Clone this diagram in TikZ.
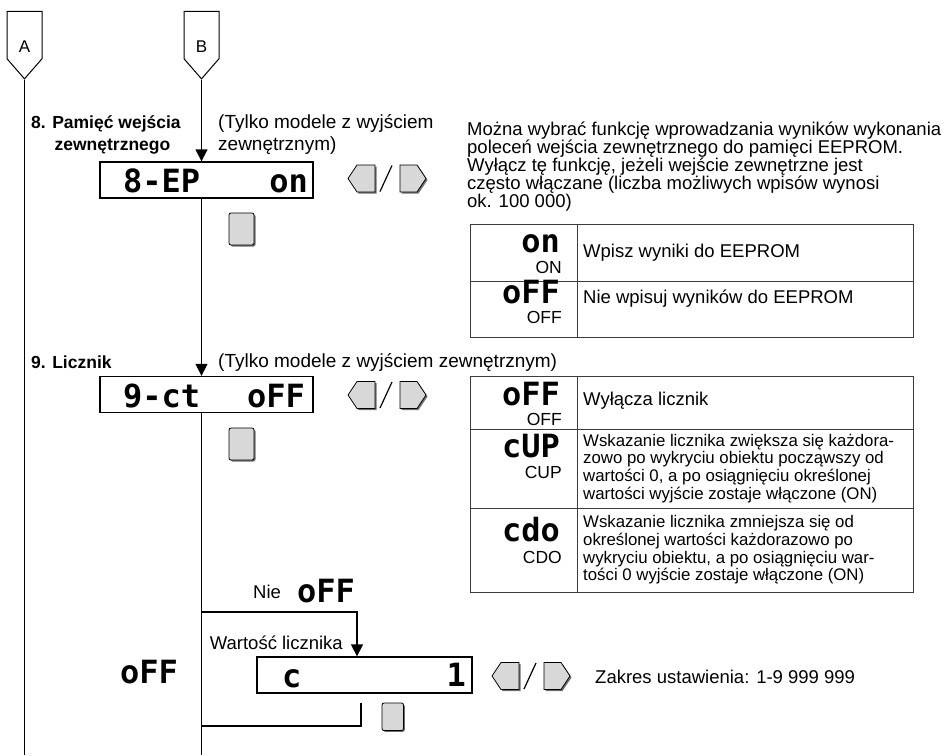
\documentclass[tikz,border=0pt]{standalone}
\usepackage{fontspec}
\setmainfont{Liberation Sans}
\newfontfamily\segfont{DejaVu Sans Mono}
\usepackage{tikz}
\usetikzlibrary{arrows.meta,positioning,shapes.symbols,calc}
\definecolor{keygray}{RGB}{216,216,216}
\definecolor{keyshade}{RGB}{110,110,110}
\definecolor{tabline}{RGB}{60,60,60}

\begin{document}
\begin{tikzpicture}[x=1pt, y=-1pt,
  every node/.style={inner sep=0pt},
  conn/.style={
    draw, line width=1pt, signal, signal to=south, signal pointer angle=82,
    minimum width=35pt, minimum height=54pt, text height=35pt, text depth=0pt,
    font=\fontsize{17}{17}\selectfont
  },
  lcd/.style={draw, line width=1.3pt, minimum width=213pt, minimum height=36pt},
  seg/.style={font=\segfont\bfseries\fontsize{32}{32}\selectfont},
  flow/.style={line width=1.3pt, -{Triangle[width=12pt,length=12pt]}},
  wire/.style={line width=1.3pt},
  txt/.style={font=\fontsize{18.5}{18}\selectfont, align=left},
  note/.style={font=\fontsize{19}{19}\selectfont},
  small/.style={font=\fontsize{16.8}{17.7}\selectfont, align=left},
  head/.style={font=\bfseries\fontsize{17.5}{17.5}\selectfont},
  code/.style={font=\fontsize{17.5}{17.5}\selectfont},
  tab/.style={draw=tabline, line width=1pt},
  keyface/.style={fill=keygray, draw=black, line width=.8pt},
  keyshadow/.style={fill=keyshade},
  arrowkeys/.pic={
    \fill[keyshadow] (1.5,1.5) -- (10.5,-12) -- (28.5,-12) -- (28.5,15) -- (10.5,15) -- cycle;
    \draw[keyface] (0,0) -- (9,-13.5) -- (27,-13.5) -- (27,13.5) -- (9,13.5) -- cycle;
    \draw[line width=1.2pt] (32,13) -- (44,-13);
    \fill[keyshadow] (53.5,-12) -- (70.5,-12) -- (79.5,1.5) -- (70.5,15) -- (53.5,15) -- cycle;
    \draw[keyface] (52,-13.5) -- (69,-13.5) -- (78,0) -- (69,13.5) -- (52,13.5) -- cycle;
  },
  setkey/.pic={
    \fill[keyshadow, rounded corners=2pt] (1.5,1.5) rectangle (26.5,33.5);
    \draw[keyface, rounded corners=2pt] (0,0) rectangle (25,32);
  }
]
  \useasboundingbox (0,0) rectangle (952,755);

  % connectors
  \node[conn] (A) at (24.5,35) {A};
  \node[conn] (B) at (201.5,35) {B};

  % step 8
  \node[head, anchor=base west] (h8a) at (31,128) {8. Pamięć wejścia};
  \node[head, anchor=base] (h8b) at (112.5,150) {zewnętrznego};
  \node[note, anchor=base west] (n8a) at (218,128) {(Tylko modele z wyjściem};
  \node[note, anchor=base west] (n8b) at (218,150) {zewnętrznym)};
  \node[lcd] (ep) at (206.5,180) {};
  \node[seg, anchor=base west] (epL) at (123,192) {8-EP};
  \node[seg, anchor=base east] (epR) at (308,192) {on};
  \pic (ek) at (348,178.5) {arrowkeys};
  \pic (es) at (229,213) {setkey};

  \node[txt, anchor=west] (info) at (467,167) {Można wybrać funkcję wprowadzania wyników wykonania\\
    poleceń wejścia zewnętrznego do pamięci EEPROM.\\
    Wyłącz tę funkcję, jeżeli wejście zewnętrzne jest\\
    często włączane (liczba możliwych wpisów wynosi\\
    ok. 100 000)};

  \draw[tab] (470,224) rectangle (913,337) (577,224) -- (577,337) (470,281) -- (913,281);
  \node[seg, anchor=base east] (t1a) at (560,252) {on};
  \node[code, anchor=base east] (t1aL) at (562,273) {ON};
  \node[txt, anchor=west] (t1aT) at (583,253) {Wpisz wyniki do EEPROM};
  \node[seg, anchor=base east] (t1b) at (560,303) {oFF};
  \node[code, anchor=base east] (t1bL) at (562,323) {OFF};
  \node[txt, anchor=west] (t1bT) at (583,299) {Nie wpisuj wyników do EEPROM};

  % step 9
  \node[head, anchor=base west] (h9) at (31,368) {9. Licznik};
  \node[note, anchor=base west] (n9) at (218,367) {(Tylko modele z wyjściem zewnętrznym)};
  \node[lcd] (ct) at (206.5,394.5) {};
  \node[seg, anchor=base west] (ctL) at (123,407) {9-ct};
  \node[seg, anchor=base east] (ctR) at (305,407) {oFF};
  \pic (ck) at (348,395) {arrowkeys};
  \pic (cs) at (229,428) {setkey};

  \draw[tab] (470,376) rectangle (913,592) (577,376) -- (577,592)
    (470,429) -- (913,429) (470,508) -- (913,508);
  \node[seg, anchor=base east] (t2a) at (560,405) {oFF};
  \node[code, anchor=base east] (t2aL) at (562,425) {OFF};
  \node[txt, anchor=west] (t2aT) at (583,401) {Wyłącza licznik};
  \node[seg, anchor=base east] (t2b) at (560,457) {cUP};
  \node[code, anchor=base east] (t2bL) at (562,478) {CUP};
  \node[small, anchor=west] (t2bT) at (583,468.5) {Wskazanie licznika zwiększa się każdora-\\
    zowo po wykryciu obiektu począwszy od\\
    wartości 0, a po osiągnięciu określonej\\
    wartości wyjście zostaje włączone (ON)};
  \node[seg, anchor=base east] (t2c) at (560,541) {cdo};
  \node[code, anchor=base east] (t2cL) at (562,563) {CDO};
  \node[small, anchor=west] (t2cT) at (583,550) {Wskazanie licznika zmniejsza się od\\
    określonej wartości każdorazowo po\\
    wykryciu obiektu, a po osiągnięciu war-\\
    tości 0 wyjście zostaje włączone (ON)};

  % counter value
  \coordinate (brL) at (201.5,612);
  \coordinate (brR) at (357,612);
  \node[txt, anchor=base west] (nie) at (253,598) {Nie};
  \node[seg, anchor=base east] (nieS) at (355,602) {oFF};
  \node[txt, anchor=base east] (wl) at (343,649) {Wartość licznika};
  \node[lcd, minimum width=215pt] (val) at (364.5,675) {};
  \node[seg, anchor=base west] (valL) at (282,687) {c};
  \node[seg, anchor=base east] (valR) at (466,686) {1};
  \node[seg, anchor=base east] (offL) at (178,683) {oFF};
  \pic (vk) at (492,676) {arrowkeys};
  \node[txt, anchor=west] (range) at (595,677) {Zakres ustawienia: 1-9 999 999};
  \pic[scale=.86] (vs) at (382,703) {setkey};
  \coordinate (rtT) at (361,703);
  \coordinate (rtL) at (201.5,726);

  % flow lines
  \coordinate (Aend) at (24.5,755);
  \coordinate (Bend) at (201.5,755);
  \draw[wire] (A.south) -- (Aend);
  \draw[flow] (B.south) -- (B.south |- ep.north);
  \draw[flow] (B.south |- ep.south) -- (B.south |- ct.north);
  \draw[wire] (B.south |- ct.south) -- (Bend);
  \draw[flow] (brL) -- (brR) -- (brR |- val.north);
  \draw[wire] (rtT) |- (rtL);
\end{tikzpicture}
\end{document}
